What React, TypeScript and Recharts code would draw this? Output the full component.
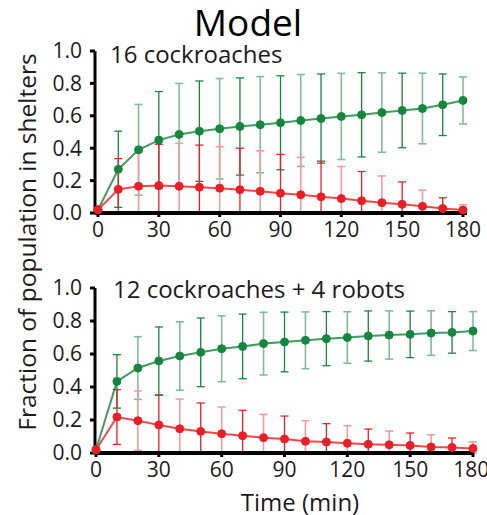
import React from "react";
import { ErrorBar, Line, LineChart, XAxis, YAxis } from "recharts";

const times = [0, 10, 20, 30, 40, 50, 60, 70, 80, 90, 100, 110, 120, 130, 140, 150, 160, 170, 180];
const xTicks = [0, 30, 60, 90, 120, 150, 180];
const yTicks = [0, 0.2, 0.4, 0.6, 0.8, 1.0];

// 16 cockroaches
const topGreenMean = [0.02, 0.27, 0.39, 0.45, 0.485, 0.505, 0.52, 0.534, 0.545, 0.557, 0.571, 0.583, 0.596, 0.606, 0.62, 0.633, 0.645, 0.668, 0.695];
const topGreenErr = [0, 0.235, 0.28, 0.3, 0.315, 0.31, 0.31, 0.3, 0.297, 0.29, 0.284, 0.275, 0.266, 0.26, 0.245, 0.23, 0.218, 0.19, 0.145];
const topRedMean = [0.02, 0.146, 0.165, 0.169, 0.165, 0.159, 0.153, 0.144, 0.134, 0.122, 0.113, 0.1, 0.089, 0.076, 0.064, 0.054, 0.041, 0.028, 0.018];
const topRedErr = [0, 0.19, 0.21, 0.255, 0.265, 0.26, 0.257, 0.256, 0.25, 0.24, 0.23, 0.22, 0.198, 0.18, 0.165, 0.138, 0.1, 0.066, 0.033];

// 12 cockroaches + 4 robots
const botGreenMean = [0.02, 0.434, 0.515, 0.558, 0.588, 0.61, 0.632, 0.646, 0.663, 0.673, 0.683, 0.693, 0.7, 0.709, 0.715, 0.719, 0.727, 0.731, 0.739];
const botGreenErr = [0, 0.162, 0.19, 0.206, 0.207, 0.208, 0.2, 0.196, 0.19, 0.181, 0.172, 0.164, 0.156, 0.152, 0.146, 0.141, 0.135, 0.126, 0.118];
const botRedMean = [0.02, 0.218, 0.196, 0.17, 0.147, 0.131, 0.117, 0.105, 0.093, 0.085, 0.071, 0.067, 0.059, 0.053, 0.05, 0.046, 0.036, 0.034, 0.028];
const botRedErr = [0, 0.166, 0.18, 0.18, 0.18, 0.172, 0.162, 0.154, 0.141, 0.139, 0.125, 0.111, 0.107, 0.092, 0.083, 0.075, 0.075, 0.057, 0.039];

const GREEN = "#14873c";
const GREEN_LINE = "#3f9c62";
const GREEN_LIGHT = "#7cbf96";
const RED = "#ee1d25";
const RED_LINE = "#f0474d";
const RED_LIGHT = "#f59a9c";
const INK = "#1c1a1b";
const FONT = "'Open Sans', sans-serif";

function buildRows(gMean: number[], gErr: number[], rMean: number[], rErr: number[]) {
  return times.map((t, i) => {
    // lower whisker stops at the axis
    const g = gErr[i] ? [Math.min(gErr[i], gMean[i]), gErr[i]] : undefined;
    const r = rErr[i] ? [Math.min(rErr[i], rMean[i]), rErr[i]] : undefined;
    const dark = i % 2 === 1;
    return {
      t,
      green: gMean[i],
      red: rMean[i],
      gDark: dark ? g : undefined,
      gLight: dark ? undefined : g,
      rDark: dark ? r : undefined,
      rLight: dark ? undefined : r,
    };
  });
}

const topRows = buildRows(topGreenMean, topGreenErr, topRedMean, topRedErr);
const botRows = buildRows(botGreenMean, botGreenErr, botRedMean, botRedErr);

type PanelProps = {
  rows: ReturnType<typeof buildRows>;
  top: number;
  height: number;
  margin: { top: number; right: number; bottom: number; left: number };
  padding: { left: number; right: number };
};

function Panel({ rows, top, height, margin, padding }: PanelProps) {
  const tick = { fill: INK, fontSize: 21, fontFamily: FONT };
  return (
    <div style={{ position: "absolute", left: 0, top }}>
      <LineChart width={487} height={height} data={rows} margin={margin}>
        <XAxis
          dataKey="t"
          type="number"
          domain={[0, 180]}
          ticks={xTicks}
          padding={padding}
          height={30}
          tick={tick}
          tickSize={4}
          tickMargin={5}
          axisLine={{ stroke: "#000", strokeWidth: 4 }}
          tickLine={{ stroke: "#000", strokeWidth: 3 }}
        />
        <YAxis
          type="number"
          domain={[0, 1]}
          ticks={yTicks}
          width={40}
          tick={tick}
          tickFormatter={(v: number) => v.toFixed(1)}
          tickSize={5}
          tickMargin={8}
          axisLine={{ stroke: "#000", strokeWidth: 3 }}
          tickLine={{ stroke: "#000", strokeWidth: 3 }}
        />
        <Line
          dataKey="green"
          stroke={GREEN_LINE}
          strokeWidth={2}
          dot={{ r: 4, fill: GREEN, stroke: GREEN, strokeWidth: 1 }}
          isAnimationActive={false}
        >
          <ErrorBar dataKey="gLight" width={4} stroke={GREEN_LIGHT} strokeWidth={1.6} />
          <ErrorBar dataKey="gDark" width={4} stroke={GREEN} strokeWidth={1.3} />
        </Line>
        <Line
          dataKey="red"
          stroke={RED_LINE}
          strokeWidth={2}
          dot={{ r: 4, fill: RED, stroke: RED, strokeWidth: 1 }}
          isAnimationActive={false}
        >
          <ErrorBar dataKey="rLight" width={4} stroke={RED_LIGHT} strokeWidth={1.6} />
          <ErrorBar dataKey="rDark" width={4} stroke={RED} strokeWidth={1.3} />
        </Line>
      </LineChart>
    </div>
  );
}

export default function App() {
  return (
    <div style={{ position: "absolute", left: 0, top: 0, width: 487, height: 515, background: "#fff", overflow: "hidden" }}>
      <Panel rows={topRows} top={0} height={250} margin={{ top: 51, right: 20, bottom: 7, left: 55 }} padding={{ left: 3, right: 4 }} />
      <Panel rows={botRows} top={240} height={275} margin={{ top: 48, right: 13, bottom: 32, left: 55 }} padding={{ left: 1, right: 1 }} />
      <svg width={487} height={515} style={{ position: "absolute", left: 0, top: 0, pointerEvents: "none" }}>
        <g fontFamily={FONT} fill={INK}>
          <text x={248} y={36} textAnchor="middle" fontSize={37} fill="#000">Model</text>
          <text x={110} y={63} fontSize={24}>16 cockroaches</text>
          <text x={113} y={298} fontSize={24}>12 cockroaches + 4 robots</text>
          <text x={300} y={511} textAnchor="middle" fontSize={24}>Time (min)</text>
          <text
            transform="translate(26,242) rotate(-90)"
            textAnchor="middle"
            dominantBaseline="central"
            fontSize={24.5}
          >
            Fraction of population in shelters
          </text>
        </g>
      </svg>
    </div>
  );
}
